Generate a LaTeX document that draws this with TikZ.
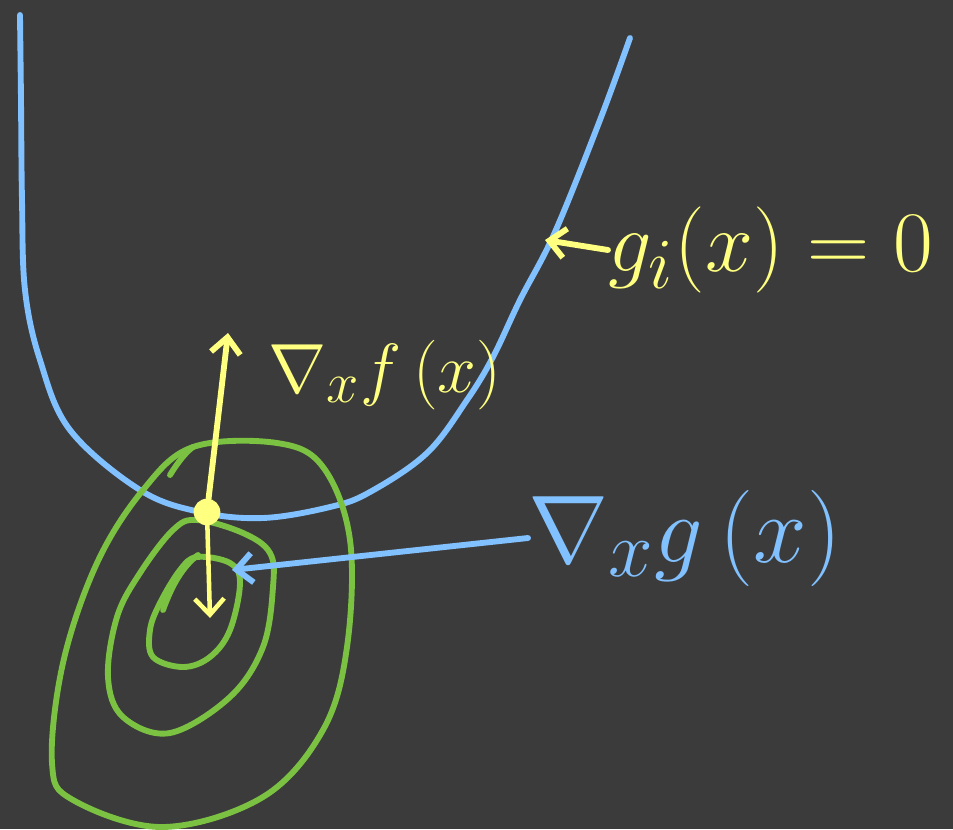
\documentclass[tikz,border=0pt]{standalone}
\usepackage{graphicx}
\usetikzlibrary{arrows.meta}
\definecolor{sketchBg}{HTML}{3B3B3B}
\definecolor{penBlue}{HTML}{82C1FF}
\definecolor{penYellow}{HTML}{FFFF80}
\definecolor{penGreen}{HTML}{7CC242}
\newcommand{\bigpen}[2]{\scalebox{#1}{\Huge #2}}
\begin{document}
\begin{tikzpicture}[
  x=0.75pt, y=-0.75pt,
  pen/.style={line width=4.4pt, line cap=round, line join=round},
  lbl/.style={inner sep=0pt},
  barb/.style={-{Straight Barb[length=12pt, width=22pt]}}
]
\fill[sketchBg] (0,0) rectangle (953,829);
\useasboundingbox (0,0) rectangle (953,829);
% constraint curve
\draw[pen, penBlue] plot[smooth, tension=0.6] coordinates {
  (20,15) (21,100) (22,200) (25,290) (40,360) (70,430) (140,490) (200,512)
  (263,518) (330,507) (370,492) (427,453) (467,400) (493,357) (520,300)
  (555,232) (600,120) (630,38)};
% level sets of f
\draw[pen, penGreen] plot[smooth cycle, tension=0.6] coordinates {
  (193,447) (277,443) (323,467) (350,540) (347,647) (323,730) (263,797)
  (163,827) (73,800) (52,763) (63,663) (97,563) (143,490)};
\draw[pen, penGreen] (170,475) .. controls (178,462) and (186,452) .. (193,447);
\draw[pen, penGreen] plot[smooth cycle, tension=0.6] coordinates {
  (197,520) (243,533) (270,553) (273,587) (263,647) (230,697) (170,733)
  (123,717) (108,677) (117,617) (140,573) (173,530)};
\draw[pen, penGreen] plot[smooth cycle, tension=0.6] coordinates {
  (197,557) (230,563) (240,583) (230,630) (210,657) (183,667) (153,657)
  (150,630) (160,603) (180,570)};
\draw[pen, penGreen] (163,610) .. controls (172,585) and (183,566) .. (198,555);
% point and gradients
\node[circle, fill=penYellow, minimum size=20pt, inner sep=0pt] (pt) at (207,512) {};
\coordinate (ftip) at (228,333);
\coordinate (gtip) at (210,618);
\draw[pen, penYellow, barb] (pt) -- (ftip);
\draw[pen, penYellow, barb, line width=3.4pt] (pt) -- (gtip);
% labels
\node[lbl, text=penYellow] (gradf) at (385,375) {\bigpen{2.1}{$\nabla_{x} f\,(x)$}};
\node[lbl, text=penYellow, anchor=west] (cons) at (608,250) {\bigpen{2.6}{$g_i(x) = 0$}};
\coordinate (constip) at (545,240);
\draw[pen, penYellow, barb] (cons.west) -- (constip);
\node[lbl, text=penBlue, anchor=west] (gradg) at (528,538) {\bigpen{2.9}{$\nabla_{x} g\,(x)$}};
\coordinate (gradgtip) at (232,570);
\draw[pen, penBlue, barb] (gradg.west) -- (gradgtip);
\end{tikzpicture}
\end{document}
